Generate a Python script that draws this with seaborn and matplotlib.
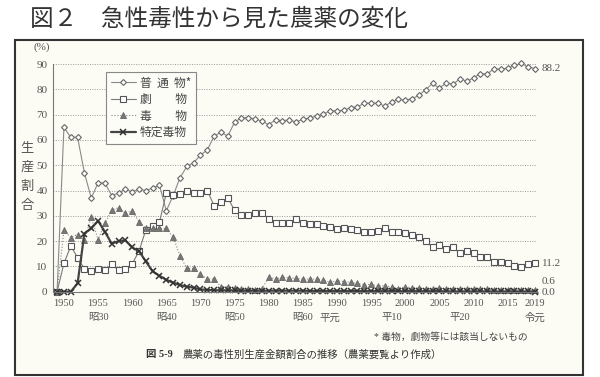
import numpy as np
import pandas as pd
import seaborn as sns
import matplotlib.pyplot as plt
from matplotlib.patches import Rectangle

# 1949 - 2019
years = list(range(1949, 2020))

futsu = [0, 65, 61, 61, 47, 37, 43, 43, 38, 39,
         40.5, 39.5, 40.5, 40, 41, 42, 32, 38, 45, 49.5,
         51, 54, 56, 61.5, 63, 61.5, 67, 68.8, 68.8, 68.3,
         67.4, 66, 68, 67.5, 68, 67, 68.2, 68.7, 69.4, 70.2,
         71.5, 71.5, 71.7, 72.8, 73, 74.6, 74.4, 74.6, 73.3, 75,
         76, 75.7, 76.3, 77.6, 79.9, 82.3, 80.5, 82.5, 81.9, 84.2,
         83.2, 84.5, 86.2, 86, 88.2, 87.9, 88.4, 89.5, 90.2, 88.8,
         88.2]
geki = [0, 11.2, 18, 13.5, 9, 8.3, 8.8, 8.4, 11, 8.5,
        9, 11, 16, 24.5, 26, 27.5, 39, 38.3, 38.8, 40,
        39.2, 39.2, 40, 34, 35.4, 37, 32.2, 30.5, 30.3, 31,
        31.3, 28.8, 27.2, 27.2, 27.2, 28.6, 27.3, 26.7, 26.6, 26,
        25.4, 24.8, 25, 24.6, 24.4, 23.7, 23.7, 23.9, 25, 23.4,
        23.7, 23.1, 22.3, 21.5, 20.1, 17.5, 18.4, 16.7, 17.5, 15.2,
        16.2, 15.2, 13.6, 13.6, 11.8, 11.8, 11.2, 10.1, 9.6, 10.9,
        11.2]
doku = [0, 24.3, 21.4, 22.6, 20.5, 29.6, 20.5, 27, 32.3, 33.2,
        31, 32, 27.6, 25, 25, 25, 25, 21.5, 14.3, 9.2,
        9.2, 7, 5, 5, 2, 2, 1.3, 1.0, 0.9, 0.8,
        1.2, 5.7, 5, 5.7, 5.5, 5.3, 5, 5, 5, 4.6,
        3.7, 4.3, 4, 3.7, 3.3, 2.6, 3, 2.2, 2.4, 1.8,
        1.2, 2, 1.5, 1.4, 1.1, 1.0, 1.5, 1.1, 1.0, 1.2,
        1.0, 1.0, 0.9, 0.9, 0.8, 0.8, 0.7, 0.7, 0.7, 0.6,
        0.6]
tokutei = [0, 0, 0, 3.3, 23, 25, 28, 23.7, 19, 20,
           20.3, 17.5, 16, 12, 8, 6.3, 4.7, 3.6, 2.6, 2,
           1.6, 0.9, 0.7, 0.6, 0.5, 0.5, 0.5, 0.4, 0.4, 0.4,
           0.4, 0.4, 0.4, 0.4, 0.4, 0.4, 0.4, 0.3, 0.3, 0.3,
           0.3, 0.3, 0.3, 0.3, 0.3, 0.3, 0.3, 0.2, 0.2, 0.2,
           0.2, 0.2, 0.2, 0.2, 0.2, 0.2, 0.2, 0.1, 0.1, 0.1,
           0.1, 0.1, 0.1, 0.1, 0.1, 0.1, 0.1, 0.1, 0.1, 0.1,
           0.0]

labels = ["普  通  物*", "劇　　物", "毒　　物", "特定毒物"]
year_ticks = [1950, 1955, 1960, 1965, 1970, 1975, 1980, 1985, 1990,
              1995, 2000, 2005, 2010, 2015, 2019]
era_years = [1955, 1965, 1975, 1985, 1989, 1998, 2008, 2019]
era_names = ["昭30", "昭40", "昭50", "昭60", "平元", "平10", "平20", "令元"]

sns.set_style("white")
plt.rcParams["font.family"] = ["Liberation Serif", "Noto Sans CJK JP"]
cjk = ["Noto Sans CJK JP", "DejaVu Sans"]
txt = "#555555"

fig = plt.figure(figsize=(6, 3.77), dpi=100)
fig.patch.set_facecolor("white")
fig.patches.append(Rectangle((15 / 600, 2 / 377), 568 / 600, 335 / 377,
                             transform=fig.transFigure, facecolor="#fcfcf4",
                             edgecolor="#333333", lw=1.5, zorder=-5))
fig.text(30 / 600, 1 - 19 / 377, "図２　急性毒性から見た農薬の変化",
         family=cjk, fontsize=17, color="#333333", va="center")

ax = fig.add_axes([53 / 600, 1 - 291.7 / 377, 484 / 600, 227.7 / 377])
ax.set_facecolor("none")

styles = [
    dict(marker="D", markersize=3, color="#8a8a8a", linewidth=0.8,
         markerfacecolor="white", markeredgecolor="#666666", markeredgewidth=0.8),
    dict(marker="s", markersize=4, color="#7a7a7a", linewidth=0.8,
         markerfacecolor="white", markeredgecolor="#555555", markeredgewidth=0.8),
    dict(marker="^", markersize=4, color="#8a8a8a", linewidth=0.8, linestyle=":",
         markerfacecolor="#777777", markeredgecolor="#666666", markeredgewidth=0.6),
    dict(marker="x", markersize=4.5, color="#444444", linewidth=1.6,
         markeredgecolor="#333333", markeredgewidth=1.1),
]
series = [futsu, geki, doku, tokutei]
for vals, lab, st in zip(series, labels, styles):
    sns.lineplot(x=years, y=vals, ax=ax, label=lab, clip_on=False, **st)

ax.set_xlim(1948.4, 2019.3)
ax.set_ylim(0, 90)
ax.set_yticks(range(0, 91, 10))
ax.set_xticks(year_ticks)
ax.set_xticks(years, minor=True)
ax.yaxis.grid(True, linestyle=(0, (1, 1.5)), color="#999999", linewidth=0.7)
ax.tick_params(axis="y", length=0, labelsize=8, labelcolor=txt, pad=4)
ax.tick_params(axis="x", which="both", direction="in", color="#888888",
               labelsize=7.5, labelcolor=txt, pad=5)
ax.tick_params(axis="x", which="major", length=3.5, width=0.6)
ax.tick_params(axis="x", which="minor", length=2.5, width=0.5)
for s in ["top", "right"]:
    ax.spines[s].set_visible(False)
for s in ["left", "bottom"]:
    ax.spines[s].set_color("#777777")
    ax.spines[s].set_linewidth(0.8)
ax.set_xlabel("")
ax.set_ylabel("")

for yr, name in zip(era_years, era_names):
    ax.text(yr, -0.115, name, transform=ax.get_xaxis_transform(), ha="center",
            va="center", fontsize=7.5, color=txt)

# end-of-line values
offsets = [0, 0, 3.4, -0.4]
for vals, off in zip(series, offsets):
    ax.text(2020.0, vals[-1] + off, f"{vals[-1]:.1f}", fontsize=8, color=txt,
            va="center", ha="left", clip_on=False)

leg = ax.legend(loc="upper left", bbox_to_anchor=(0.1095, 0.966),
                borderaxespad=0, frameon=True, fancybox=False,
                edgecolor="#888888", facecolor="#fdfdf8", framealpha=1,
                prop={"family": cjk, "size": 8.5}, handlelength=2.1,
                handletextpad=0.35, labelspacing=0.3, borderpad=0.4)
leg.get_frame().set_linewidth(0.8)
for t in leg.get_texts():
    t.set_color("#444444")

fig.text(42 / 600, 1 - 47 / 377, "(%)", fontsize=8, color=txt, ha="center", va="center")
fig.text(27 / 600, 1 - 177 / 377, "生\n産\n割\n合", family=cjk, fontsize=9.5,
         color=txt, ha="center", va="center", linespacing=1.6)
fig.text(528 / 600, 1 - 337 / 377, "* 毒物，劇物等には該当しないもの",
         fontsize=7, color="#444444", ha="right", va="center")
fig.text(146 / 600, 1 - 355 / 377, "図 5-9", fontsize=7.5, weight="bold",
         color="#333333", ha="left", va="center")
fig.text(183 / 600, 1 - 355 / 377, "農薬の毒性別生産金額割合の推移（農薬要覧より作成）",
         fontsize=7.5, color="#333333", ha="left", va="center")

fig.savefig("out.png", dpi=100)
